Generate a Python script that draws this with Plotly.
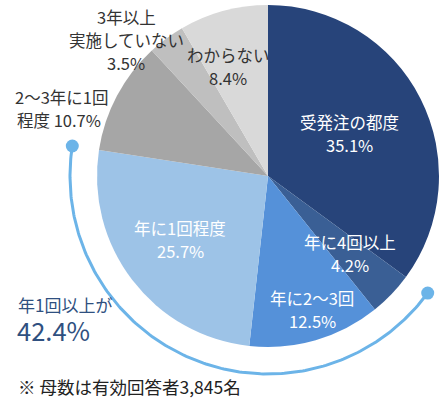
import numpy as np
import plotly.graph_objects as go

# ---- data ----
categories = ["受発注の都度", "年に4回以上", "年に2～3回", "年に1回程度",
              "2～3年に1回程度", "3年以上実施していない", "わからない"]
values = [35.1, 4.2, 12.5, 25.7, 10.7, 3.5, 8.4]
colors = ["#27447A", "#3A5F95", "#5591D9", "#9DC3E7", "#A6A6A6", "#BFBFBF", "#D9D9D9"]
label_lines = [["受発注の都度", "35.1%"], ["年に4回以上", "4.2%"], ["年に2～3回", "12.5%"],
               ["年に1回程度", "25.7%"], ["2～3年に1回", "程度 10.7%"],
               ["3年以上", "実施していない", "3.5%"], ["わからない", "8.4%"]]
highlight_idx = [1, 2, 3]  # 年1回以上
highlight_text_1 = "年1回以上が"
highlight_text_2 = "42.4%"
footnote = "※ 母数は有効回答者3,845名"

W, H = 445, 398
FONT = "Noto Sans CJK JP, Noto Sans, sans-serif"

# pie geometry (pixels)
cx, cy, R = 268, 176, 171
arc_r = 198

fig = go.Figure()
fig.add_trace(go.Pie(
    labels=categories, values=values, sort=False, direction="clockwise", rotation=0,
    marker=dict(colors=colors, line=dict(width=0)),
    textinfo="none", hoverinfo="label+percent", showlegend=False,
    domain=dict(x=[(cx - R) / W, (cx + R) / W], y=[1 - (cy + R) / H, 1 - (cy - R) / H]),
))

# arc around the "年1回以上" slices
total = sum(values)
cum = np.cumsum([0] + values) / total * 360.0
a0 = cum[highlight_idx[0]]
a1 = cum[highlight_idx[-1] + 1]
th = np.radians(np.linspace(a0, a1, 200))
ax_ = cx + arc_r * np.sin(th)
ay_ = cy - arc_r * np.cos(th)
fig.add_trace(go.Scatter(x=ax_, y=ay_, mode="lines", line=dict(color="#6CB4E8", width=3),
                         hoverinfo="skip", showlegend=False))
fig.add_trace(go.Scatter(x=[ax_[0], ax_[-1]], y=[ay_[0], ay_[-1]], mode="markers",
                         marker=dict(color="#6CB4E8", size=13), hoverinfo="skip", showlegend=False))

# label annotations (one per line): (x, first-line y, anchor)
label_pos = [(349, 122, "center"), (350, 242, "center"), (312, 298, "center"),
             (180, 228, "center"), (13, 97, "left"), (126, 17, "center"), (228, 55, "center")]
line_gap = 23
label_colors = ["white", "white", "white", "white", "#333333", "#333333", "#333333"]
annotations = []
for lines, (x, y, al), c in zip(label_lines, label_pos, label_colors):
    for k, t in enumerate(lines):
        xx = x + (2 if (al == "left" and k > 0) else 0)
        annotations.append(dict(
            x=xx, y=y + k * line_gap, xref="x", yref="y", text=t, showarrow=False,
            xanchor=al, yanchor="middle",
            font=dict(family=FONT, size=16.5, color=c)))

annotations.append(dict(x=16, y=304, xref="x", yref="y", text=highlight_text_1, showarrow=False,
                        xanchor="left", yanchor="middle",
                        font=dict(family=FONT, size=17, color="#2F5080")))
annotations.append(dict(x=15, y=329, xref="x", yref="y", text=highlight_text_2, showarrow=False,
                        xanchor="left", yanchor="middle",
                        font=dict(family=FONT, size=25.5, color="#2F5080")))
annotations.append(dict(x=16, y=386, xref="x", yref="y", text=footnote, showarrow=False,
                        xanchor="left", yanchor="middle",
                        font=dict(family=FONT, size=17.5, color="#222222")))

fig.update_layout(
    width=W, height=H, margin=dict(l=0, r=0, t=0, b=0),
    paper_bgcolor="white", plot_bgcolor="rgba(0,0,0,0)",
    xaxis=dict(range=[0, W], visible=False, domain=[0, 1], fixedrange=True),
    yaxis=dict(range=[H, 0], visible=False, domain=[0, 1], fixedrange=True),
    annotations=annotations,
)

fig.write_html("out.html", config={"displayModeBar": False},
               post_script="document.body.style.margin='0px';document.body.style.overflow='hidden';")
